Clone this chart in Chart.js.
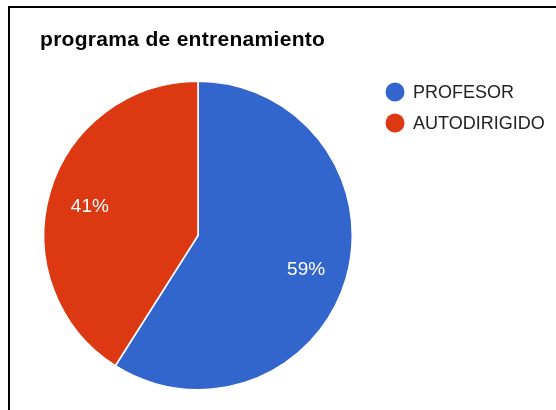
<!DOCTYPE html>
<html>
<head>
<meta charset="utf-8">
<script src="https://cdn.jsdelivr.net/npm/chart.js@4/dist/chart.umd.min.js"></script>
<style>
  html, body { margin: 0; padding: 0; background: #fff; }
  #wrap { position: relative; width: 556px; height: 410px; overflow: hidden; }
  #frame { position: absolute; left: 8px; top: 6px; right: -10px; bottom: -10px;
           border-left: 2px solid #000; border-top: 2px solid #000; }
  canvas { position: absolute; left: 0; top: 0; }
</style>
</head>
<body>
<div id="wrap">
  <div id="frame"></div>
  <canvas id="chart" width="556" height="410"></canvas>
</div>
<script>
const title = 'programa de entrenamiento'
const labels = ['PROFESOR', 'AUTODIRIGIDO']
const values = [59, 41]
const colors = ['#3366cc', '#dc3912']

const FONT = '"Liberation Sans", Arial, sans-serif'

// title, legend and slice percentages drawn the way the old Google pie did
const googleStyle = {
  id: 'googleStyle',
  afterDraw(chart) {
    const ctx = chart.ctx
    ctx.save()
    ctx.fillStyle = '#000'
    ctx.font = 'bold 21px ' + FONT
    ctx.textBaseline = 'alphabetic'
    ctx.textAlign = 'left'
    ctx.letterSpacing = '0.3px'
    ctx.fillText(title, 40, 46)
    ctx.letterSpacing = '0px'

    ctx.font = '18px ' + FONT
    ctx.textBaseline = 'middle'
    labels.forEach((lab, i) => {
      const y = 92 + i * 31
      ctx.fillStyle = colors[i]
      ctx.beginPath()
      ctx.arc(395, y, 9.5, 0, Math.PI * 2)
      ctx.fill()
      ctx.fillStyle = '#222'
      ctx.fillText(lab, 413, y + 1)
    })

    const total = values.reduce((a, b) => a + b, 0)
    const meta = chart.getDatasetMeta(0)
    ctx.fillStyle = '#fff'
    ctx.textAlign = 'center'
    ctx.font = '19px ' + FONT
    meta.data.forEach((arc, i) => {
      const p = arc.getProps(['x', 'y', 'startAngle', 'endAngle', 'outerRadius'], true)
      const mid = (p.startAngle + p.endAngle) / 2
      const r = p.outerRadius * 0.73
      const pct = Math.round(values[i] / total * 100) + '%'
      ctx.fillText(pct, p.x + Math.cos(mid) * r, p.y + Math.sin(mid) * r + 3)
    })
    ctx.restore()
  }
}

new Chart(document.getElementById('chart'), {
  type: 'pie',
  data: {
    labels: labels,
    datasets: [{
      data: values,
      backgroundColor: colors,
      borderColor: '#ffffff',
      borderWidth: 1.5
    }]
  },
  options: {
    responsive: false,
    animation: false,
    layout: { padding: { left: 43, right: 203, top: 80.5, bottom: 19.5 } },
    plugins: {
      legend: { display: false },
      title: { display: false },
      tooltip: { enabled: false }
    }
  },
  plugins: [googleStyle]
})
</script>
</body>
</html>
